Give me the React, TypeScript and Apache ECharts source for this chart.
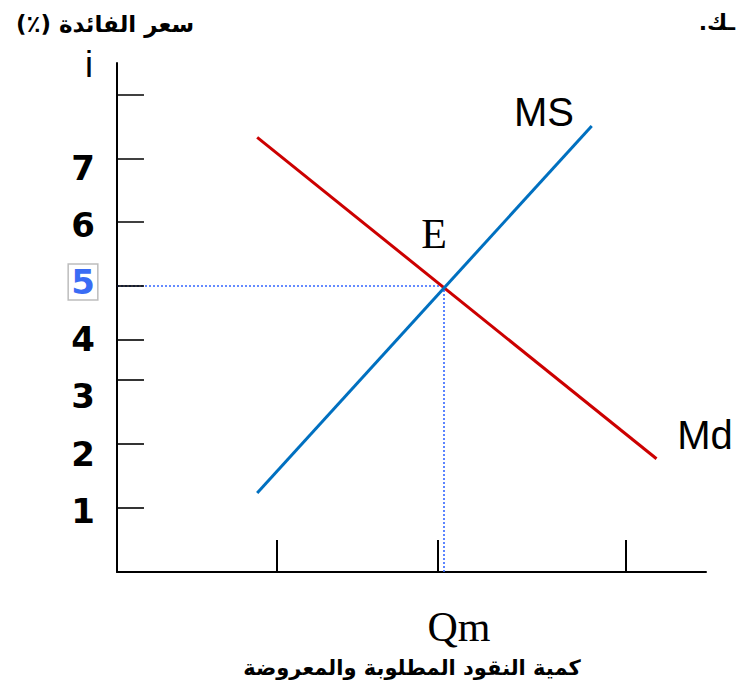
import React, { useEffect, useRef } from "react";
import * as echarts from "echarts";

// Money market: demand for money (Md) and money supply (MS)
const rateLabels = [1, 2, 3, 4, 5, 6, 7];
const equilibriumRate = 5;
const equilibriumQuantity = 5.55;
const mdCurve = [
  [2.38, 7.6],
  [9.16, 1.98],
];
const msCurve = [
  [2.38, 1.38],
  [8.06, 7.8],
];
const rateTickLevels = [1.12, 2.24, 3.36, 4.06, 5.0, 6.12, 7.22, 8.34];
const quantityTickLevels = [2.72, 5.45, 8.63];

const X_MAX = 10;
const Y_MAX = 8.9;
const Y_STUB = 0.458;
const X_STUB = 0.56;

const yTitle = "سعر الفائدة (٪)";
const xTitle = "كمية النقود المطلوبة والمعروضة";
const cornerText = ".ـك";

const RLE = "\u202B";
const PDF = "\u202C";

export default function App() {
  const ref = useRef<HTMLDivElement>(null);

  useEffect(() => {
    if (!ref.current) return;
    const chart = echarts.init(ref.current, null, { renderer: "svg" });

    const latin = "'Liberation Sans', Arial, sans-serif";
    const serif = "'Liberation Serif', 'Times New Roman', serif";
    const arabic = "'DejaVu Sans', sans-serif";

    chart.setOption({
      animation: false,
      backgroundColor: "#ffffff",
      grid: { left: 117, top: 63, width: 589, height: 509, containLabel: false },
      xAxis: {
        type: "value",
        min: 0,
        max: X_MAX,
        axisLine: { show: true, onZero: false, lineStyle: { color: "#000", width: 2 } },
        axisTick: { show: false },
        axisLabel: { show: false },
        splitLine: { show: false },
      },
      yAxis: {
        type: "value",
        min: 0,
        max: Y_MAX,
        interval: 1,
        axisLine: { show: true, onZero: false, lineStyle: { color: "#000", width: 2 } },
        axisTick: { show: false },
        splitLine: { show: false },
        axisLabel: {
          show: true,
          showMaxLabel: false,
          margin: 34,
          align: "center",
          padding: [0, 0, 8, 0],
          color: "#000",
          fontSize: 34,
          fontWeight: "bold",
          fontFamily: "'DejaVu Sans', sans-serif",
          formatter: (v: number) => {
            if (v === equilibriumRate) return "{hi|" + v + "}";
            return rateLabels.includes(v) ? String(v) : "";
          },
          rich: {
            hi: {
              color: "#3a6cf4",
              fontSize: 34,
              fontWeight: "bold",
              fontFamily: "'DejaVu Sans', sans-serif",
              lineHeight: 34,
              borderColor: "#bdbdbd",
              borderWidth: 1.5,
              padding: [1, 3, 1, 3],
            },
          },
        },
      },
      series: [
        {
          name: "guides",
          type: "lines",
          coordinateSystem: "cartesian2d",
          polyline: false,
          silent: true,
          lineStyle: { color: "#3366ff", width: 1.6, type: [2, 2], opacity: 1 },
          data: [
            { coords: [[0, equilibriumRate], [equilibriumQuantity, equilibriumRate]] },
            { coords: [[equilibriumQuantity, equilibriumRate], [equilibriumQuantity, 0]] },
          ],
        },
        {
          name: "rateTicks",
          type: "lines",
          coordinateSystem: "cartesian2d",
          polyline: false,
          silent: true,
          lineStyle: { color: "#000", width: 1.6, opacity: 1 },
          data: rateTickLevels.map((y) => ({ coords: [[0, y], [Y_STUB, y]] })),
        },
        {
          name: "quantityTicks",
          type: "lines",
          coordinateSystem: "cartesian2d",
          polyline: false,
          silent: true,
          lineStyle: { color: "#000", width: 2, opacity: 1 },
          data: quantityTickLevels.map((x) => ({ coords: [[x, 0], [x, X_STUB]] })),
        },
        {
          name: "Md",
          type: "line",
          data: mdCurve,
          symbol: "none",
          silent: true,
          lineStyle: { color: "#cc0000", width: 3 },
        },
        {
          name: "MS",
          type: "line",
          data: msCurve,
          symbol: "none",
          silent: true,
          lineStyle: { color: "#0070c0", width: 3 },
        },
      ],
      graphic: [
        {
          type: "text",
          x: 105,
          y: 24,
          style: {
            text: RLE + yTitle + PDF,
            fill: "#000",
            fontSize: 23,
            fontWeight: "bold",
            fontFamily: arabic,
            align: "center",
            verticalAlign: "middle",
          },
        },
        {
          type: "text",
          x: 735,
          y: 22,
          style: {
            text: cornerText,
            fill: "#000",
            fontSize: 22,
            fontWeight: "bold",
            fontFamily: arabic,
            align: "right",
            verticalAlign: "middle",
          },
        },
        {
          type: "text",
          x: 89,
          y: 64,
          style: {
            text: "i",
            fill: "#000",
            fontSize: 36,
            fontFamily: latin,
            align: "center",
            verticalAlign: "middle",
          },
        },
        {
          type: "text",
          x: 544,
          y: 112,
          style: {
            text: "MS",
            fill: "#000",
            fontSize: 40,
            fontFamily: latin,
            align: "center",
            verticalAlign: "middle",
          },
        },
        {
          type: "text",
          x: 705,
          y: 435,
          style: {
            text: "Md",
            fill: "#000",
            fontSize: 40,
            fontFamily: latin,
            align: "center",
            verticalAlign: "middle",
          },
        },
        {
          type: "text",
          x: 434,
          y: 234,
          style: {
            text: "E",
            fill: "#000",
            fontSize: 42,
            fontFamily: serif,
            align: "center",
            verticalAlign: "middle",
          },
        },
        {
          type: "text",
          x: 459,
          y: 627,
          style: {
            text: "Qm",
            fill: "#000",
            fontSize: 42,
            fontFamily: serif,
            align: "center",
            verticalAlign: "middle",
          },
        },
        {
          type: "text",
          x: 412,
          y: 668,
          style: {
            text: RLE + xTitle + PDF,
            fill: "#000",
            fontSize: 21,
            fontWeight: "bold",
            fontFamily: arabic,
            align: "center",
            verticalAlign: "middle",
          },
        },
      ],
    });

    return () => chart.dispose();
  }, []);

  return (
    <div
      ref={ref}
      style={{ position: "absolute", left: 0, top: 0, width: 736, height: 696 }}
    />
  );
}
